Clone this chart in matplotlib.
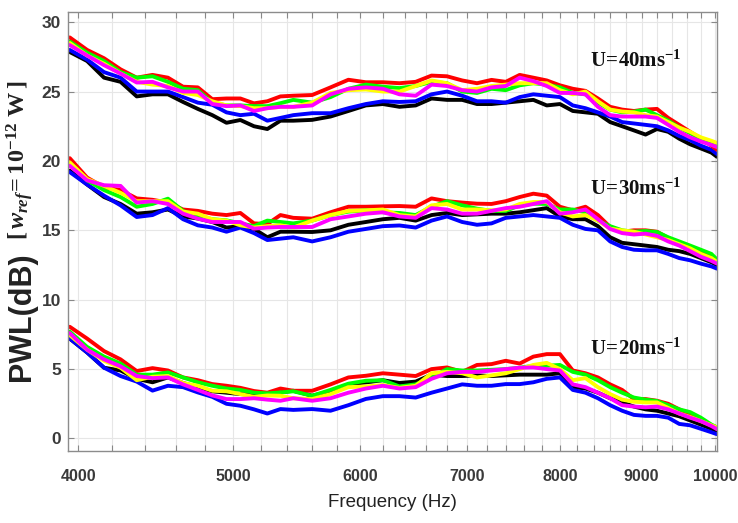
import matplotlib
matplotlib.use("Agg")
import matplotlib.pyplot as plt
from matplotlib.ticker import NullFormatter

plt.rcParams["mathtext.fontset"] = "custom"
plt.rcParams["mathtext.rm"] = "Liberation Serif:bold"
plt.rcParams["mathtext.it"] = "Liberation Serif:italic:bold"
plt.rcParams["mathtext.bf"] = "Liberation Serif:bold"

# Frequency samples (Hz)
freq = [3950, 4050, 4150, 4250, 4350, 4450, 4550, 4650, 4750, 4850, 4950,
        5050, 5150, 5250, 5350, 5450, 5600, 5750, 5900, 6050, 6200,
        6350, 6500, 6650, 6800, 6950, 7100, 7250, 7400, 7550, 7700, 7850,
        8000, 8150, 8300, 8450, 8600, 8750, 8900, 9050, 9200, 9350, 9500,
        9650, 9800, 9950, 10030]

# ---- U = 40 m/s ----
u40_black = [27.85, 27.2, 26.0, 25.7, 24.65, 24.8, 24.8, 24.25, 23.75, 23.3, 22.75,
             22.95, 22.5, 22.3, 22.9, 22.9, 22.96, 23.2, 23.6, 24.0, 24.1,
             23.9, 24.0, 24.5, 24.4, 24.4, 24.1, 24.1, 24.2, 24.3, 24.4, 24.0,
             24.1, 23.6, 23.5, 23.4, 22.8, 22.5, 22.2, 21.9, 22.3, 22.1, 21.6,
             21.2, 20.9, 20.6, 20.3]
u40_blue = [28.0, 27.3, 26.4, 26.0, 25.0, 25.0, 25.0, 24.6, 24.2, 24.05, 23.5,
            23.3, 23.4, 22.9, 23.1, 23.3, 23.44, 23.44, 23.8, 24.1, 24.3,
            24.25, 24.3, 24.8, 25.0, 24.7, 24.3, 24.3, 24.2, 24.6, 24.8, 24.7,
            24.6, 24.0, 23.8, 23.5, 23.2, 22.8, 22.7, 22.6, 22.5, 22.2, 21.8,
            21.5, 21.1, 20.8, 20.5]
u40_red = [28.9, 28.0, 27.4, 26.6, 26.0, 26.2, 26.0, 25.35, 25.3, 24.45, 24.5,
           24.5, 24.15, 24.3, 24.65, 24.7, 24.75, 25.3, 25.85, 25.67, 25.67,
           25.6, 25.7, 26.15, 26.1, 25.8, 25.6, 25.84, 25.7, 26.2, 26.0, 25.8,
           25.45, 25.2, 25.05, 24.5, 23.9, 23.7, 23.6, 23.7, 23.75, 23.1, 22.6,
           22.1, 21.6, 21.1, 20.8]
u40_green = [28.6, 27.8, 27.2, 26.4, 26.0, 26.1, 25.7, 25.2, 25.1, 24.2, 24.0,
             24.0, 23.95, 23.95, 24.16, 24.4, 24.2, 24.6, 25.2, 25.5, 25.35,
             25.25, 25.4, 25.7, 25.6, 25.0, 24.9, 25.2, 25.1, 25.45, 25.6, 25.5,
             25.3, 24.9, 24.8, 24.2, 23.7, 23.5, 23.55, 23.7, 23.3, 22.9, 22.4,
             22.0, 21.6, 21.3, 21.1]
u40_yellow = [28.5, 27.6, 27.0, 26.3, 25.7, 25.5, 25.4, 24.9, 24.75, 24.3, 24.0,
              23.95, 23.8, 23.8, 23.9, 23.9, 24.2, 24.9, 25.1, 25.15, 25.0,
              25.0, 25.4, 25.8, 25.6, 25.1, 25.2, 25.4, 25.5, 25.6, 25.6, 25.6,
              25.1, 24.8, 25.0, 24.3, 23.7, 23.56, 23.5, 23.3, 23.2, 22.8, 22.4,
              22.1, 21.7, 21.45, 21.3]
u40_magenta = [28.35, 27.6, 26.9, 26.3, 25.65, 25.7, 25.3, 25.0, 25.0, 24.1, 23.95,
               24.0, 23.6, 23.8, 23.9, 23.9, 24.0, 24.8, 25.2, 25.3, 25.2,
               24.8, 24.7, 25.5, 25.4, 25.1, 25.0, 25.3, 25.4, 26.0, 25.75, 25.4,
               24.9, 24.9, 24.8, 23.9, 23.3, 23.2, 23.2, 23.2, 23.1, 22.6, 22.1,
               21.7, 21.4, 21.15, 21.0]

# ---- U = 30 m/s ----
u30_black = [19.3, 18.3, 17.4, 16.9, 16.2, 16.3, 16.5, 16.0, 15.85, 15.6, 15.2,
             15.3, 15.1, 14.5, 14.9, 14.9, 14.88, 15.0, 15.4, 15.6, 15.8,
             15.9, 15.7, 16.1, 16.25, 16.1, 16.15, 16.2, 16.2, 16.3, 16.45, 16.6,
             16.0, 15.8, 15.8, 15.3, 14.5, 14.1, 14.0, 13.9, 13.8, 13.6, 13.5,
             13.3, 13.0, 12.7, 12.5]
u30_blue = [19.2, 18.3, 17.5, 16.8, 15.96, 16.1, 16.6, 15.8, 15.36, 15.2, 14.9,
            15.2, 14.8, 14.3, 14.4, 14.5, 14.2, 14.5, 14.9, 15.1, 15.3,
            15.35, 15.2, 15.7, 16.0, 15.6, 15.4, 15.5, 15.9, 16.0, 16.1, 16.0,
            15.9, 15.4, 15.1, 15.0, 14.2, 13.8, 13.6, 13.56, 13.56, 13.3, 13.0,
            12.84, 12.6, 12.4, 12.24]
u30_red = [20.2, 18.8, 18.1, 17.9, 17.3, 17.2, 17.0, 16.5, 16.4, 16.2, 16.1,
           16.25, 15.5, 15.45, 16.1, 15.9, 15.84, 16.3, 16.7, 16.7, 16.73,
           16.75, 16.7, 17.3, 17.1, 17.0, 16.92, 16.9, 17.1, 17.4, 17.64, 17.5,
           16.7, 16.44, 16.7, 16.1, 15.24, 14.9, 15.0, 15.0, 14.9, 14.45, 14.1,
           13.8, 13.4, 13.05, 12.72]
u30_green = [19.8, 18.6, 17.9, 17.4, 16.7, 16.9, 17.28, 16.4, 16.0, 15.8, 15.72,
             15.5, 15.3, 15.7, 15.6, 15.5, 15.7, 16.1, 16.35, 16.44, 16.3,
             16.25, 16.1, 16.7, 17.1, 16.8, 16.56, 16.4, 16.4, 16.8, 16.92, 16.9,
             16.5, 16.5, 16.3, 15.7, 15.3, 15.0, 14.9, 14.95, 14.88, 14.5, 14.2,
             13.9, 13.6, 13.3, 12.9]
u30_yellow = [19.9, 18.7, 18.2, 17.7, 17.1, 17.1, 17.1, 16.35, 16.2, 15.8, 15.7,
              15.36, 15.2, 15.3, 15.36, 15.2, 15.7, 16.1, 16.4, 16.44, 16.5,
              16.1, 16.0, 16.8, 16.9, 16.5, 16.5, 16.44, 16.5, 16.9, 17.04, 17.04,
              16.3, 16.0, 16.1, 15.7, 15.12, 15.0, 14.9, 14.7, 14.5, 14.3, 14.0,
              13.7, 13.3, 13.0, 12.72]
u30_magenta = [19.65, 18.6, 18.25, 18.2, 17.0, 17.1, 16.9, 16.2, 15.84, 15.6, 15.6,
               15.6, 15.12, 15.2, 15.24, 15.24, 15.24, 15.8, 16.0, 16.2, 16.3,
               16.0, 15.9, 16.6, 16.5, 16.2, 16.2, 16.4, 16.6, 16.7, 16.9, 17.1,
               16.2, 16.3, 16.5, 15.8, 15.1, 14.8, 14.7, 14.76, 14.6, 14.2, 13.9,
               13.5, 13.1, 12.8, 12.6]

# ---- U = 20 m/s ----
u20_black = [7.2, 6.2, 5.1, 4.9, 4.3, 4.05, 4.4, 4.0, 3.7, 3.4, 3.3,
             3.2, 3.15, 3.2, 3.32, 3.44, 3.08, 3.4, 3.9, 4.04, 4.2,
             4.0, 4.1, 4.6, 4.5, 4.5, 4.55, 4.5, 4.55, 4.6, 4.6, 4.6,
             4.7, 3.7, 3.6, 3.3, 2.9, 2.6, 2.3, 2.1, 2.0, 1.8, 1.6,
             1.3, 1.0, 0.7, 0.55]
u20_blue = [7.2, 6.2, 5.1, 4.5, 4.1, 3.45, 3.8, 3.7, 3.32, 3.0, 2.5,
            2.36, 2.1, 1.8, 2.12, 2.06, 2.12, 2.0, 2.4, 2.85, 3.05,
            3.05, 2.95, 3.3, 3.6, 3.9, 3.8, 3.8, 3.92, 3.92, 4.05, 4.3,
            4.4, 3.5, 3.3, 2.9, 2.4, 2.0, 1.7, 1.63, 1.63, 1.5, 1.05,
            0.95, 0.7, 0.45, 0.31]
u20_red = [8.05, 7.2, 6.3, 5.7, 4.86, 5.07, 4.9, 4.4, 4.2, 3.92, 3.8,
           3.65, 3.42, 3.3, 3.6, 3.44, 3.44, 3.9, 4.4, 4.52, 4.7,
           4.6, 4.5, 5.0, 5.12, 4.8, 5.3, 5.36, 5.6, 5.4, 5.9, 6.08,
           6.08, 4.9, 4.7, 4.4, 3.9, 3.5, 2.84, 2.84, 2.72, 2.5, 2.1,
           1.7, 1.3, 0.95, 0.8]
u20_green = [7.7, 6.6, 5.9, 5.4, 4.6, 4.6, 4.76, 4.4, 4.05, 3.8, 3.6,
             3.5, 3.3, 3.25, 3.32, 3.4, 3.08, 3.5, 3.95, 4.16, 4.2,
             3.75, 3.9, 4.4, 5.0, 4.9, 4.9, 4.95, 5.0, 5.1, 5.24, 5.24,
             5.3, 4.8, 4.6, 4.2, 3.7, 3.3, 2.95, 2.8, 2.7, 2.4, 2.1,
             1.9, 1.5, 1.0, 0.8]
u20_yellow = [7.45, 6.4, 5.6, 5.1, 4.2, 4.45, 4.5, 4.0, 3.8, 3.44, 3.4,
              3.2, 3.0, 3.1, 3.08, 2.9, 2.84, 3.2, 3.7, 3.75, 3.85,
              3.65, 3.8, 4.7, 4.8, 4.7, 4.4, 4.55, 4.7, 5.0, 5.3, 5.45,
              5.0, 4.2, 4.35, 3.7, 3.2, 2.8, 2.65, 2.6, 2.6, 2.2, 1.8,
              1.55, 1.25, 0.95, 0.8]
u20_magenta = [7.6, 6.4, 5.7, 5.2, 4.5, 4.35, 4.4, 3.9, 3.5, 3.1, 2.84,
               2.84, 2.9, 2.8, 2.72, 2.9, 2.72, 2.9, 3.3, 3.6, 3.8,
               3.6, 3.7, 4.3, 4.7, 4.8, 4.8, 4.9, 5.0, 5.1, 5.12, 5.0,
               4.9, 3.9, 3.7, 3.3, 2.9, 2.4, 2.3, 2.25, 2.3, 2.1, 1.8,
               1.5, 1.25, 0.9, 0.67]

speed_labels = [r"$\mathbf{U\!=\!40ms^{-1}}$", r"$\mathbf{U\!=\!30ms^{-1}}$",
                r"$\mathbf{U\!=\!20ms^{-1}}$"]
x_ticks = [4000, 5000, 6000, 7000, 8000, 9000, 10000]
x_minor = [4200, 4400, 4600, 4800, 5200, 5400, 5600, 5800, 6200, 6400, 6600,
           6800, 7200, 7400, 7600, 7800, 8200, 8400, 8600, 8800, 9200, 9400,
           9600, 9800]
y_ticks = [0, 5, 10, 15, 20, 25, 30]

groups = [
    (u40_black, u40_blue, u40_red, u40_green, u40_yellow, u40_magenta),
    (u30_black, u30_blue, u30_red, u30_green, u30_yellow, u30_magenta),
    (u20_black, u20_blue, u20_red, u20_green, u20_yellow, u20_magenta),
]
colors = ["#000000", "#0000ff", "#ff0000", "#00ff00", "#ffff00", "#ff00ff"]

fig = plt.figure(figsize=(7.38, 5.23), dpi=100)
ax = fig.add_axes([0.0921, 0.1377, 0.8794, 0.8385])
ax.set_xscale("log")

for series in groups:
    for vals, c in zip(series, colors):
        ax.plot(freq, vals, color=c, lw=2.8, solid_joinstyle="round",
                solid_capstyle="round")

ax.set_xlim(3940, 10030)
ax.set_ylim(-0.9, 30.7)

sans = ["Liberation Sans", "DejaVu Sans"]
ax.set_xticks(x_ticks)
ax.set_xticklabels([str(t) for t in x_ticks], family=sans, size=11.5,
                   weight="bold", color="#3a3a3a")
ax.set_xticks(x_minor, minor=True)
ax.xaxis.set_minor_formatter(NullFormatter())
ax.set_yticks(y_ticks)
ax.set_yticklabels([str(t) for t in y_ticks], family=sans, size=12.5,
                   weight="bold", color="#3a3a3a")

ax.grid(True, which="both", color="#e6e6e6", lw=0.8)
ax.set_axisbelow(True)
ax.tick_params(which="both", direction="in", top=True, right=True,
               length=4, width=0.8, color="#888888")
ax.tick_params(axis="x", pad=13)
ax.tick_params(axis="y", pad=5)
for s in ax.spines.values():
    s.set_color("#8c8c8c")
    s.set_linewidth(1.0)

ax.set_xlabel("Frequency (Hz)", family=sans, size=13.5, color="#222222",
              labelpad=7)

# y-axis label: sans part plus serif bracket
fig.text(0.030, 0.395, "PWL(dB)", rotation=90, ha="center", va="center",
         family=sans, weight="bold", size=22, color="#222222")
fig.text(0.027, 0.693, r"$[\,w_{ref}\!= \mathrm{10^{-12}\ W}\,]$", rotation=90,
         ha="center", va="center", size=17.5, color="#222222")

for lab, yf in zip(speed_labels, [0.892, 0.600, 0.235]):
    ax.text(0.804, yf, lab, transform=ax.transAxes, ha="left", va="center",
            size=15, color="#111111")

fig.savefig("out.png", dpi=100)
